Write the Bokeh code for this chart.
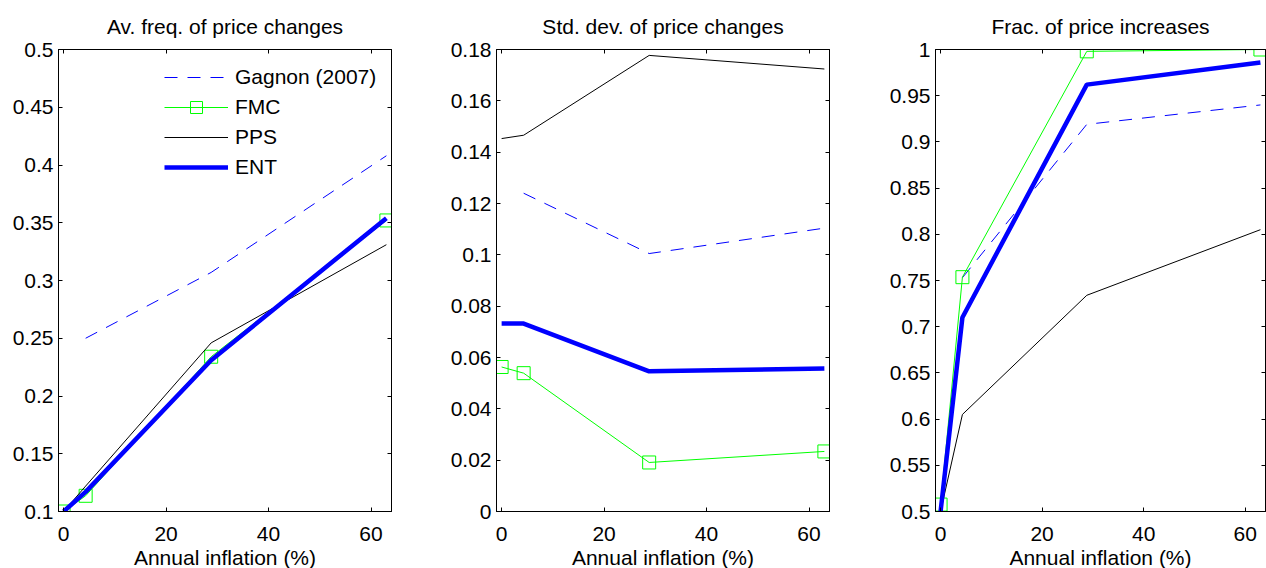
from bokeh.plotting import figure
from bokeh.layouts import row
from bokeh.models import Range1d, LinearAxis, FixedTicker, Legend, LegendItem
from bokeh.embed import file_html
from bokeh.resources import INLINE

# ---------------- data ----------------
inflation = [0.0, 4.3, 28.8, 63.0]
inflation_gagnon = [4.3, 28.8, 63.0]

series_names = ["Gagnon (2007)", "FMC", "PPS", "ENT"]

freq_gagnon = [0.250, 0.307, 0.408]
freq_fmc = [0.100, 0.1136, 0.234, 0.352]
freq_pps = [0.100, 0.122, 0.246, 0.331]
freq_ent = [0.100, 0.117, 0.231, 0.354]

std_gagnon = [0.124, 0.1005, 0.1104]
std_fmc = [0.0563, 0.0539, 0.0191, 0.0234]
std_pps = [0.1453, 0.1466, 0.1777, 0.1724]
std_ent = [0.0732, 0.0732, 0.0546, 0.0557]

inc_gagnon = [0.753, 0.919, 0.940]
inc_fmc = [0.5075, 0.7536, 0.998, 1.0]
inc_pps = [0.500, 0.605, 0.734, 0.805]
inc_ent = [0.500, 0.710, 0.962, 0.986]

titles = ["Av. freq. of price changes", "Std. dev. of price changes", "Frac. of price increases"]
x_label = "Annual inflation (%)"

x_ticks = [0, 20, 40, 60]
x_tick_labels = ["0", "20", "40", "60"]

freq_ticks = [0.1, 0.15, 0.2, 0.25, 0.3, 0.35, 0.4, 0.45, 0.5]
freq_tick_labels = ["0.1", "0.15", "0.2", "0.25", "0.3", "0.35", "0.4", "0.45", "0.5"]
std_ticks = [0, 0.02, 0.04, 0.06, 0.08, 0.1, 0.12, 0.14, 0.16, 0.18]
std_tick_labels = ["0", "0.02", "0.04", "0.06", "0.08", "0.1", "0.12", "0.14", "0.16", "0.18"]
inc_ticks = [0.5, 0.55, 0.6, 0.65, 0.7, 0.75, 0.8, 0.85, 0.9, 0.95, 1.0]
inc_tick_labels = ["0.5", "0.55", "0.6", "0.65", "0.7", "0.75", "0.8", "0.85", "0.9", "0.95", "1"]

# ---------------- style ----------------
FONT = "Liberation Sans"
FS = "21px"
BLUE = "#0000ff"
GREEN = "#00ff00"


def tick_only_axis(ticks):
    ax = LinearAxis(ticker=FixedTicker(ticks=ticks))
    ax.major_tick_in = 4
    ax.major_tick_out = 0
    ax.minor_tick_line_color = None
    ax.axis_line_color = "black"
    ax.major_label_standoff = 0
    ax.major_label_text_font_size = "0px"
    ax.major_label_overrides = {t: "" for t in ticks}
    return ax


def make_panel(title, y_lo, y_hi, yt, ytl, gag, fmc, pps, ent,
               border_left, frame_width, border_right):
    p = figure(output_backend="svg", toolbar_location=None,
               frame_width=frame_width, frame_height=462,
               min_border_left=border_left, min_border_right=border_right,
               min_border_top=48, min_border_bottom=58,
               x_range=Range1d(-1, 64), y_range=Range1d(y_lo, y_hi),
               background_fill_color="white", border_fill_color="white")
    p.title.text = title
    p.title.align = "center"
    p.title.text_font = FONT
    p.title.text_font_size = FS
    p.title.text_font_style = "normal"
    p.title.text_color = "black"
    p.title.standoff = 24

    p.xgrid.visible = False
    p.ygrid.visible = False
    p.outline_line_color = "black"
    p.outline_line_width = 1
    p.outline_line_alpha = 1

    xa = p.xaxis[0]
    xa.ticker = FixedTicker(ticks=x_ticks)
    xa.major_label_overrides = dict(zip(x_ticks, x_tick_labels))
    xa.axis_label = x_label
    xa.axis_label_text_font = FONT
    xa.axis_label_text_font_size = FS
    xa.axis_label_text_font_style = "normal"
    xa.axis_label_text_color = "black"
    xa.axis_label_standoff = 2
    xa.major_label_standoff = 15

    ya = p.yaxis[0]
    ya.ticker = FixedTicker(ticks=yt)
    ya.major_label_overrides = dict(zip(yt, ytl))
    ya.major_label_standoff = 5

    for ax in (xa, ya):
        ax.major_tick_in = 4
        ax.major_tick_out = 0
        ax.minor_tick_line_color = None
        ax.axis_line_color = "black"
        ax.major_tick_line_color = "black"
        ax.major_label_text_font = FONT
        ax.major_label_text_font_size = FS
        ax.major_label_text_color = "black"

    p.add_layout(tick_only_axis(x_ticks), "above")
    p.add_layout(tick_only_axis(yt), "right")

    r_gag = p.line(inflation_gagnon, gag, line_color=BLUE, line_width=1, line_dash="13 10")
    r_fmc = p.line(inflation, fmc, line_color=GREEN, line_width=1)
    r_fmc_m = p.scatter(inflation, fmc, marker="square", size=13, line_color=GREEN,
                        fill_color=None, line_width=1)
    r_pps = p.line(inflation, pps, line_color="black", line_width=1)
    r_ent = p.line(inflation, ent, line_color=BLUE, line_width=4.5)
    return p, [[r_gag], [r_fmc, r_fmc_m], [r_pps], [r_ent]]


p1, rs = make_panel(titles[0], 0.1, 0.5, freq_ticks, freq_tick_labels,
                    freq_gagnon, freq_fmc, freq_pps, freq_ent, 58, 333, 47)
p2, _ = make_panel(titles[1], 0.0, 0.18, std_ticks, std_tick_labels,
                   std_gagnon, std_fmc, std_pps, std_ent, 58, 333, 48)
p3, _ = make_panel(titles[2], 0.5, 1.0, inc_ticks, inc_tick_labels,
                   inc_gagnon, inc_fmc, inc_pps, inc_ent, 58, 330, 1)

legend = Legend(items=[LegendItem(label=n, renderers=r) for n, r in zip(series_names, rs)],
                location="top_right", margin=13, padding=15, spacing=0,
                glyph_width=64, glyph_height=30, label_standoff=7, label_width=143,
                label_text_font=FONT, label_text_font_size=FS, label_text_color="black",
                border_line_color=None, background_fill_alpha=0)
p1.add_layout(legend)

layout = row(p1, p2, p3)
open("out.html", "w").write(file_html(layout, INLINE))
